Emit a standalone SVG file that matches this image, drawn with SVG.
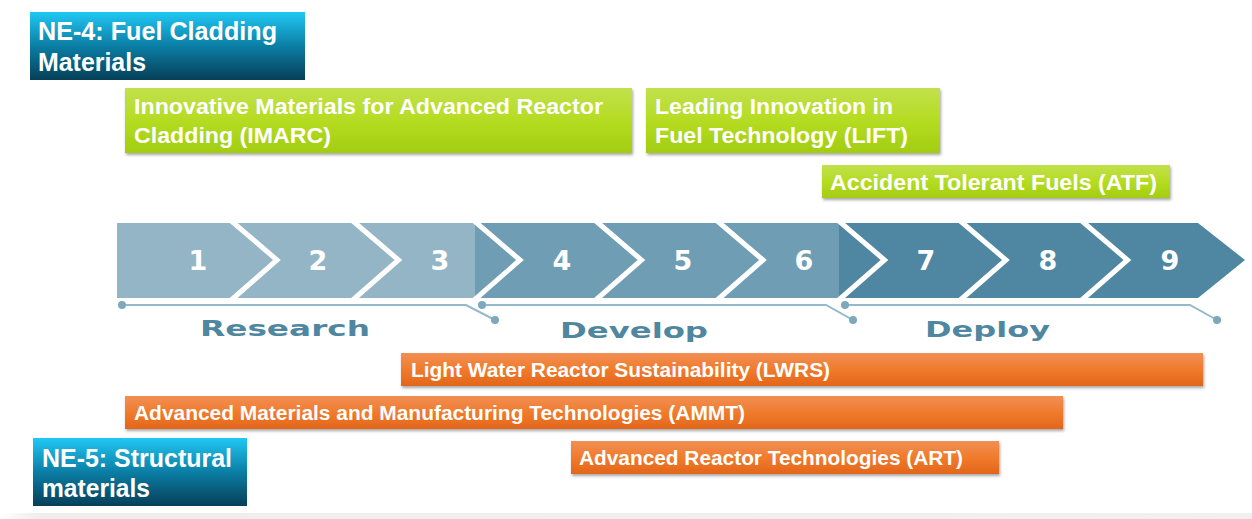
<svg xmlns="http://www.w3.org/2000/svg" width="1252" height="519" viewBox="0 0 1252 519">
  <defs>
    <linearGradient id="gBlue" x1="0" y1="0" x2="0" y2="1">
      <stop offset="0" stop-color="#20c8f4"/>
      <stop offset="0.5" stop-color="#0b7ea5"/>
      <stop offset="1" stop-color="#063f58"/>
    </linearGradient>
    <linearGradient id="gGreen" x1="0" y1="0" x2="0" y2="1">
      <stop offset="0" stop-color="#c2e04c"/>
      <stop offset="0.5" stop-color="#b5dc22"/>
      <stop offset="1" stop-color="#a3cd10"/>
    </linearGradient>
    <linearGradient id="gOrange" x1="0" y1="0" x2="0" y2="1">
      <stop offset="0" stop-color="#f18f55"/>
      <stop offset="0.5" stop-color="#f07b2c"/>
      <stop offset="1" stop-color="#e3661b"/>
    </linearGradient>
    <linearGradient id="gFloor" x1="0" y1="0" x2="1" y2="0">
      <stop offset="0" stop-color="#ffffff"/>
      <stop offset="0.03" stop-color="#eeeeee"/>
      <stop offset="1" stop-color="#f0f0f0"/>
    </linearGradient>
    <filter id="shadow" x="-5%" y="-20%" width="110%" height="150%">
      <feDropShadow dx="1" dy="2" stdDeviation="1.5" flood-color="#000" flood-opacity="0.35"/>
    </filter>
    <style>
      .lbl { font-family: "Liberation Sans", Arial, sans-serif; font-weight: bold; fill: #ffffff; }
      .num { font-family: "DejaVu Sans", sans-serif; font-weight: bold; font-size: 27px; fill: #ffffff; text-anchor: middle; }
      .phase { font-family: "DejaVu Sans", sans-serif; font-weight: bold; font-size: 22px; fill: #4f86a0; }
      .sep { fill: none; stroke: #ffffff; stroke-width: 5; stroke-linejoin: miter; }
      .tl { fill: none; stroke: #93b9ca; stroke-width: 2; }
      .dot { fill: #7ea8bc; }
      .green { fill: url(#gGreen); filter: url(#shadow); }
      .orange { fill: url(#gOrange); filter: url(#shadow); }
      .blue { fill: url(#gBlue); }
    </style>
  </defs>

  <rect width="1252" height="519" fill="#ffffff"/>
  <rect x="0" y="513" width="1252" height="6" fill="url(#gFloor)"/>

  <!-- category headers -->
  <g id="ne4">
    <rect class="blue" x="30" y="12" width="275" height="68"/>
    <text class="lbl" font-size="26" x="38" y="40" textLength="239" lengthAdjust="spacingAndGlyphs">NE-4: Fuel Cladding</text>
    <text class="lbl" font-size="26" x="38" y="71" textLength="108" lengthAdjust="spacingAndGlyphs">Materials</text>
  </g>
  <g id="ne5">
    <rect class="blue" x="33" y="438" width="214" height="68"/>
    <text class="lbl" font-size="26" x="42" y="467" textLength="190" lengthAdjust="spacingAndGlyphs">NE-5: Structural</text>
    <text class="lbl" font-size="26" x="42" y="497" textLength="108" lengthAdjust="spacingAndGlyphs">materials</text>
  </g>

  <!-- fuel programmes -->
  <g id="imarc">
    <rect class="green" x="125" y="88" width="507" height="65"/>
    <text class="lbl" font-size="22" x="134" y="114" textLength="469" lengthAdjust="spacingAndGlyphs">Innovative Materials for Advanced Reactor</text>
    <text class="lbl" font-size="22" x="134" y="143" textLength="197" lengthAdjust="spacingAndGlyphs">Cladding (IMARC)</text>
  </g>
  <g id="lift">
    <rect class="green" x="646" y="88" width="294" height="65"/>
    <text class="lbl" font-size="22" x="655" y="114" textLength="238" lengthAdjust="spacingAndGlyphs">Leading Innovation in</text>
    <text class="lbl" font-size="22" x="655" y="143" textLength="253" lengthAdjust="spacingAndGlyphs">Fuel Technology (LIFT)</text>
  </g>
  <g id="atf">
    <rect class="green" x="822" y="165" width="348" height="33"/>
    <text class="lbl" font-size="22" x="830" y="190" textLength="327" lengthAdjust="spacingAndGlyphs">Accident Tolerant Fuels (ATF)</text>
  </g>

  <!-- readiness level band -->
  <g id="trl-band">
    <path fill="#93b5c6" d="M117,223 H478 L523,260 L478,298 H117 Z"/>
    <path fill="#6f9db4" d="M475,223 H842 L887,260 L842,298 H475 Z"/>
    <path fill="#4f86a1" d="M839,223 H1198 L1245,260 L1198,298 H839 Z"/>
    <polyline class="sep" points="229,219 277,260 229,302"/>
    <polyline class="sep" points="350.5,219 398.5,260 350.5,302"/>
    <polyline class="sep" points="472,219 520,260 472,302"/>
    <polyline class="sep" points="593.5,219 641.5,260 593.5,302"/>
    <polyline class="sep" points="715,219 763,260 715,302"/>
    <polyline class="sep" points="836.5,219 884.5,260 836.5,302"/>
    <polyline class="sep" points="958,219 1006,260 958,302"/>
    <polyline class="sep" points="1079.5,219 1127.5,260 1079.5,302"/>
    <text class="num" x="198" y="270">1</text>
    <text class="num" x="318" y="270">2</text>
    <text class="num" x="440" y="270">3</text>
    <text class="num" x="562" y="270">4</text>
    <text class="num" x="683" y="270">5</text>
    <text class="num" x="804" y="270">6</text>
    <text class="num" x="926" y="270">7</text>
    <text class="num" x="1048" y="270">8</text>
    <text class="num" x="1170" y="270">9</text>
  </g>

  <!-- phase brackets -->
  <g id="timeline">
    <polyline class="tl" points="122,305 466,305 495,320"/>
    <circle class="dot" cx="122" cy="305" r="4"/>
    <circle class="dot" cx="495" cy="320" r="4"/>
    <polyline class="tl" points="482,305 826,305 853,320"/>
    <circle class="dot" cx="482" cy="305" r="4"/>
    <circle class="dot" cx="853" cy="320" r="4"/>
    <polyline class="tl" points="845,305 1190,305 1217,320"/>
    <circle class="dot" cx="845" cy="305" r="4"/>
    <circle class="dot" cx="1217" cy="320" r="4"/>
  </g>
  <g id="phases">
    <text class="phase" x="200" y="336" textLength="170" lengthAdjust="spacingAndGlyphs" fill="#5a8fa8">Research</text>
    <text class="phase" x="560" y="338" textLength="148" lengthAdjust="spacingAndGlyphs">Develop</text>
    <text class="phase" x="925" y="337" textLength="125" lengthAdjust="spacingAndGlyphs">Deploy</text>
  </g>

  <!-- structural programmes -->
  <g id="lwrs">
    <rect class="orange" x="401" y="353" width="802" height="33"/>
    <text class="lbl" font-size="20" x="411" y="377" textLength="419" lengthAdjust="spacingAndGlyphs">Light Water Reactor Sustainability (LWRS)</text>
  </g>
  <g id="ammt">
    <rect class="orange" x="125" y="396" width="938" height="33"/>
    <text class="lbl" font-size="20" x="134" y="420" textLength="611" lengthAdjust="spacingAndGlyphs">Advanced Materials and Manufacturing Technologies (AMMT)</text>
  </g>
  <g id="art">
    <rect class="orange" x="571" y="441" width="428" height="33"/>
    <text class="lbl" font-size="20" x="579" y="465" textLength="384" lengthAdjust="spacingAndGlyphs">Advanced Reactor Technologies (ART)</text>
  </g>
</svg>
